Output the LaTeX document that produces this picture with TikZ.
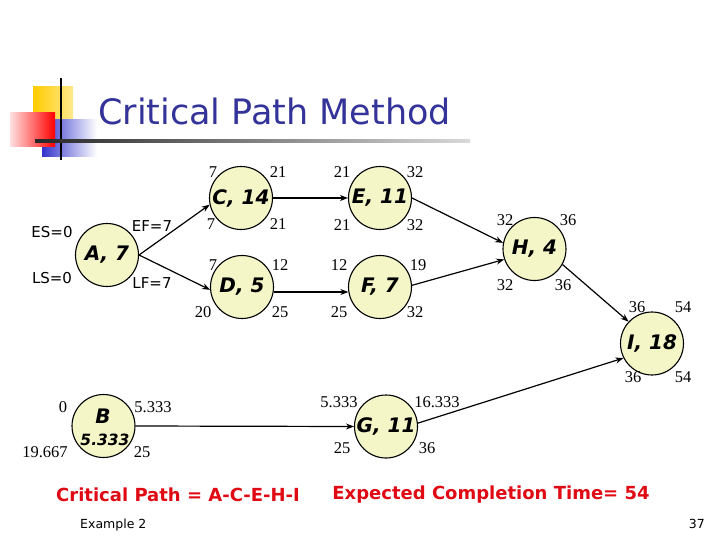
\documentclass[tikz,border=0pt]{standalone}
\usepackage{fontspec}
\setmainfont{DejaVu Sans}[BoldFont={DejaVu Sans Bold},ItalicFont={DejaVu Sans Oblique},BoldItalicFont={DejaVu Sans Bold Oblique}]
\newfontfamily\numfont{Liberation Serif}
\usetikzlibrary{arrows.meta,shadings}
\definecolor{nodefill}{RGB}{245,246,200}
\definecolor{titleblue}{RGB}{51,51,153}
\definecolor{critred}{RGB}{224,10,20}
\definecolor{sqyellow}{RGB}{255,204,0}
\definecolor{sqblue}{RGB}{51,51,204}
\begin{document}
\begin{tikzpicture}[x=1pt,y=-1pt,
  act/.style={circle,draw=black,line width=1.1pt,fill=nodefill,minimum size=63pt,inner sep=0pt,font=\fontsize{20}{20}\selectfont\bfseries\itshape},
  num/.style={font=\numfont\fontsize{16.5}{16.5}\selectfont,inner sep=0pt},
  lab/.style={font=\fontsize{15}{15}\selectfont,inner sep=0pt},
  conn/.style={-{Stealth[length=8pt,width=6pt]},line width=1.2pt}]
\useasboundingbox[fill=white] (0,0) rectangle (720,540);
% title decoration
\shade[left color=sqyellow,right color=sqyellow!45] (33,87) rectangle (73,120);
\shade[left color=sqblue,right color=white] (42,120) rectangle (97,157);
\shade[left color=red!12,right color=red] (10,113) rectangle (55,147);
\draw[line width=2pt] (61,78) -- (61,160);
\shade[left color=black!85,right color=black!15] (35,139.5) rectangle (470,142.5);
\node[anchor=base west,inner sep=0pt,text=titleblue,font=\fontsize{35}{35}\selectfont] (title) at (98,125) {Critical Path Method};
% activities
\node[act] (A) at (107,255) {A, 7};
\node[act] (C) at (241,198) {C, 14};
\node[act] (E) at (380,198) {E, 11};
\node[act] (D) at (242,287) {D, 5};
\node[act] (F) at (380,287) {F, 7};
\node[act] (H) at (534.5,249) {H, 4};
\node[act] (I) at (652,343.5) {I, 18};
\node[act] (B) at (103.5,426) {};
\node[act] (G) at (386,426.5) {G, 11};
\node[inner sep=0pt,font=\fontsize{20}{20}\selectfont\bfseries\itshape] (Bn) at (103,416) {B};
\node[inner sep=0pt,font=\fontsize{15.5}{15.5}\selectfont\bfseries\itshape] (Bd) at (105,440) {5.333};
% connectors
\draw[conn] (A.east) -- (C.192);
\draw[conn] (A.east) -- (D.185);
\draw[conn] (C.east) -- (E.west);
\draw[conn] (D.351) -- (F.189);
\draw[conn] (E.east) -- (H.169);
\draw[conn] (F.3) -- (H.199);
\draw[conn] (H.331) -- (I.137);
\draw[conn] (B.east) -- (G.west);
\draw[conn] (G.6) -- (I.207);
% A labels
\node[lab] (es) at (52,232) {ES=0};
\node[lab] (ls) at (52,278) {LS=0};
\node[lab] (ef) at (152,226) {EF=7};
\node[lab] (lf) at (152,283) {LF=7};
% C
\node[num] (c1) at (213,172) {7};
\node[num] (c2) at (278,172) {21};
\node[num] (c3) at (211,224) {7};
\node[num] (c4) at (278,224) {21};
% E
\node[num] (e1) at (342,172) {21};
\node[num] (e2) at (415,172) {32};
\node[num] (e3) at (342,225) {21};
\node[num] (e4) at (415,225) {32};
% D
\node[num] (d1) at (213,265) {7};
\node[num] (d2) at (280,265) {12};
\node[num] (d3) at (203,312) {20};
\node[num] (d4) at (280,312) {25};
% F
\node[num] (f1) at (339,265) {12};
\node[num] (f2) at (418,265) {19};
\node[num] (f3) at (339,312) {25};
\node[num] (f4) at (415,312) {32};
% H
\node[num] (h1) at (505,220) {32};
\node[num] (h2) at (568,220) {36};
\node[num] (h3) at (505,285) {32};
\node[num] (h4) at (563,285) {36};
% I
\node[num] (i1) at (637,307) {36};
\node[num] (i2) at (683,307) {54};
\node[num] (i3) at (633,377) {36};
\node[num] (i4) at (683,377) {54};
% B
\node[num] (b1) at (63,407) {0};
\node[num] (b2) at (153,407) {5.333};
\node[num] (b3) at (45,452) {19.667};
\node[num] (b4) at (142,452) {25};
% G
\node[num] (g1) at (339,402) {5.333};
\node[num] (g2) at (437,402) {16.333};
\node[num] (g3) at (342,448) {25};
\node[num] (g4) at (427,448) {36};
% bottom texts
\node[anchor=base west,inner sep=0pt,text=critred,font=\fontsize{18}{18}\selectfont\bfseries] (cp) at (56,501) {Critical Path = A-C-E-H-I};
\node[inner sep=0pt,text=critred,font=\fontsize{18}{18}\selectfont\bfseries] (ect) at (491,494.5) {Expected Completion Time= 54};
\node[anchor=base west,inner sep=0pt,font=\fontsize{12.5}{12.5}\selectfont] (ex) at (80,528) {Example 2};
\node[anchor=base east,inner sep=0pt,font=\fontsize{12.5}{12.5}\selectfont] (pg) at (705,528) {37};
\end{tikzpicture}
\end{document}
